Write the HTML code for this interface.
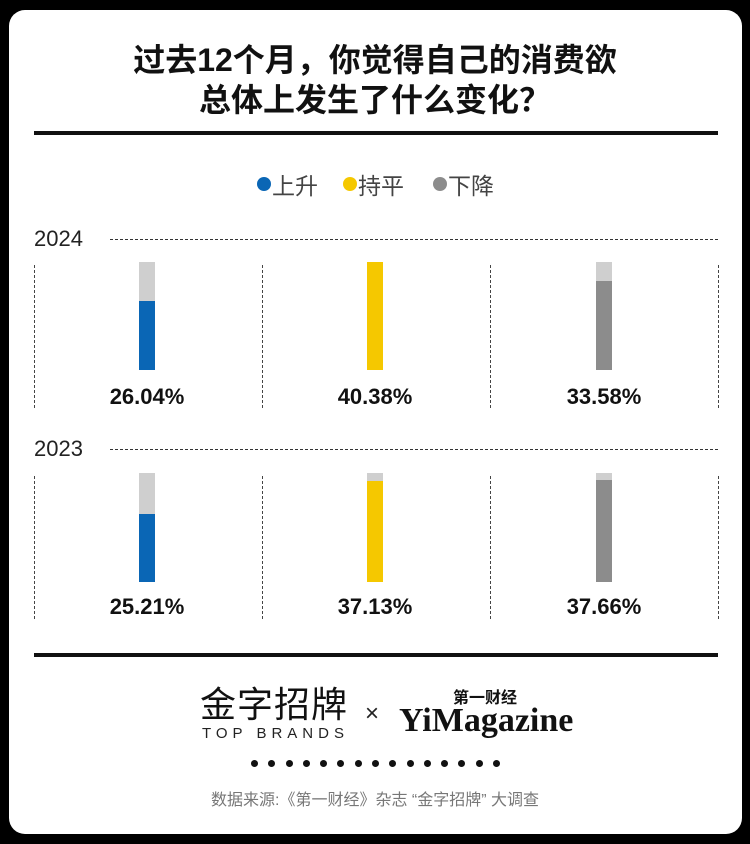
<!DOCTYPE html>
<html><head><meta charset="utf-8"><style>
*{margin:0;padding:0;box-sizing:border-box}
body{width:750px;height:844px;background:#000;position:relative;overflow:hidden;font-family:"Liberation Sans","Noto Sans CJK SC",sans-serif}
.card{position:absolute;left:9px;top:10px;width:733px;height:824px;background:#fff;border-radius:16px}
.a{position:absolute}
.t{left:0;width:750px;text-align:center;font-weight:bold;font-size:32px;color:#111;line-height:40px}
.hl{left:34px;width:684px;height:4px;background:#111}
.dh{height:0;border-top:1.5px dashed #333}
.dv{width:0;border-left:1.5px dashed #444}
.bar{width:16px}
.pct{width:140px;text-align:center;font-weight:bold;font-size:22px;color:#111}
.yr{font-size:22px;color:#222;left:34px}
.lg{font-size:23px;color:#444;top:167px}
.dot{width:14px;height:14px;border-radius:50%;top:177px}
.dots{left:251px;width:249px;top:760px;display:flex;justify-content:space-between}
.dots i{display:block;width:7px;height:7px;border-radius:50%;background:#111}
</style></head><body>
<div class="card"></div>
<div class="a t" style="top:40px">过去12个月，你觉得自己的消费欲</div>
<div class="a t" style="top:80px">总体上发生了什么变化？</div>
<div class="a hl" style="top:131px"></div>

<div class="a dot" style="left:257px;background:#0a66b5"></div><div class="a lg" style="left:272px">上升</div>
<div class="a dot" style="left:343px;background:#f5c800"></div><div class="a lg" style="left:358px">持平</div>
<div class="a dot" style="left:433px;background:#8c8c8c"></div><div class="a lg" style="left:448px">下降</div>

<div class="a yr" style="top:226px">2024</div>
<div class="a dh" style="left:110px;width:608px;top:239px"></div>
<div class="a dv" style="left:34px;top:265px;height:143px"></div>
<div class="a dv" style="left:262px;top:265px;height:143px"></div>
<div class="a dv" style="left:490px;top:265px;height:143px"></div>
<div class="a dv" style="left:718px;top:265px;height:143px"></div>
<div class="a bar" style="left:139px;top:262px;height:108px;background:#cfcfcf"></div>
<div class="a bar" style="left:139px;top:301px;height:69px;background:#0a66b5"></div>
<div class="a bar" style="left:367px;top:262px;height:108px;background:#f5c800"></div>
<div class="a bar" style="left:596px;top:262px;height:108px;background:#cfcfcf"></div>
<div class="a bar" style="left:596px;top:281px;height:89px;background:#8c8c8c"></div>
<div class="a pct" style="left:77px;top:384px">26.04%</div>
<div class="a pct" style="left:305px;top:384px">40.38%</div>
<div class="a pct" style="left:534px;top:384px">33.58%</div>

<div class="a yr" style="top:436px">2023</div>
<div class="a dh" style="left:110px;width:608px;top:449px"></div>
<div class="a dv" style="left:34px;top:476px;height:143px"></div>
<div class="a dv" style="left:262px;top:476px;height:143px"></div>
<div class="a dv" style="left:490px;top:476px;height:143px"></div>
<div class="a dv" style="left:718px;top:476px;height:143px"></div>
<div class="a bar" style="left:139px;top:473px;height:109px;background:#cfcfcf"></div>
<div class="a bar" style="left:139px;top:514px;height:68px;background:#0a66b5"></div>
<div class="a bar" style="left:367px;top:473px;height:109px;background:#cfcfcf"></div>
<div class="a bar" style="left:367px;top:481px;height:101px;background:#f5c800"></div>
<div class="a bar" style="left:596px;top:473px;height:109px;background:#cfcfcf"></div>
<div class="a bar" style="left:596px;top:480px;height:102px;background:#8c8c8c"></div>
<div class="a pct" style="left:77px;top:594px">25.21%</div>
<div class="a pct" style="left:305px;top:594px">37.13%</div>
<div class="a pct" style="left:534px;top:594px">37.66%</div>

<div class="a hl" style="top:653px"></div>
<div class="a" style="left:200px;top:686px;font-size:36px;color:#111;letter-spacing:1px;line-height:38px">金字招牌</div>
<div class="a" style="left:202px;top:726px;font-size:15px;color:#222;letter-spacing:5px;line-height:16px">TOP BRANDS</div>
<div class="a" style="left:365px;top:700px;font-size:24px;color:#222">×</div>
<div class="a" style="left:453px;top:690px;font-size:16px;font-weight:bold;color:#111;line-height:18px">第一财经</div>
<div class="a" style="left:399px;top:703px;font-size:34px;font-weight:bold;color:#111;font-family:'Liberation Serif',serif;line-height:36px">YiMagazine</div>
<div class="a dots"><i></i><i></i><i></i><i></i><i></i><i></i><i></i><i></i><i></i><i></i><i></i><i></i><i></i><i></i><i></i></div>
<div class="a" style="left:0;width:750px;top:786px;text-align:center;font-size:16px;color:#777">数据来源:《第一财经》杂志 “金字招牌” 大调查</div>
</body></html>
